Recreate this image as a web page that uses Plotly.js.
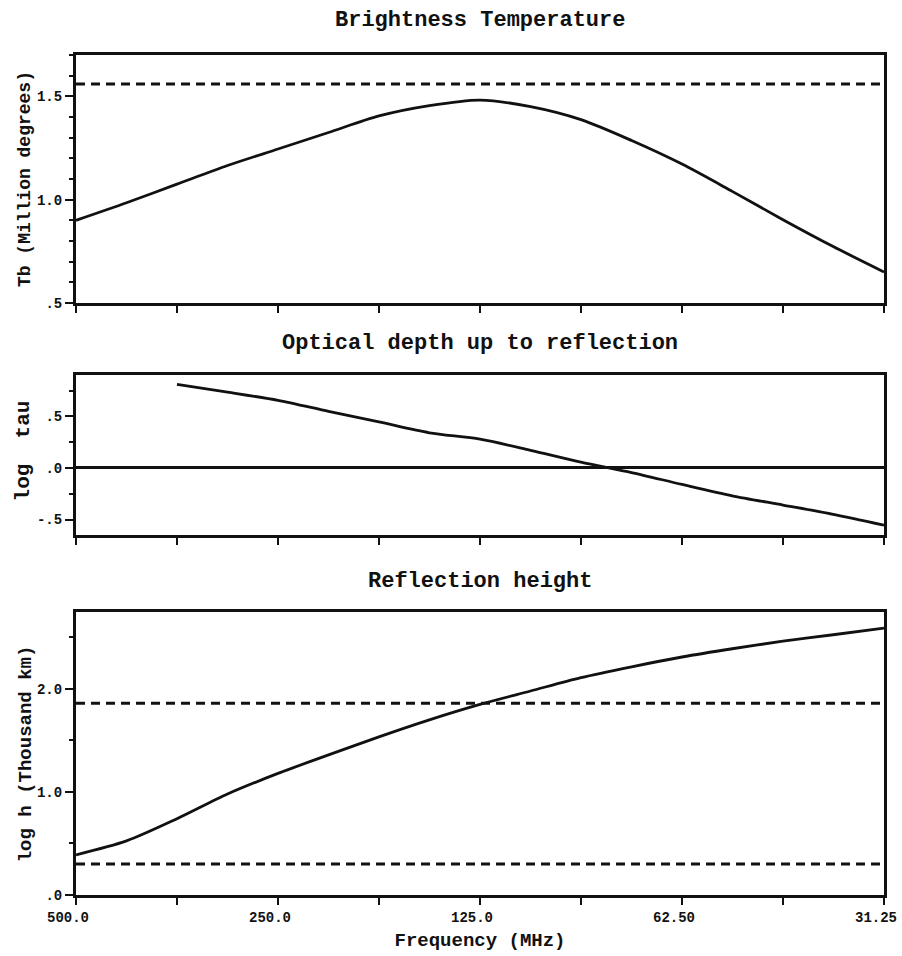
<!DOCTYPE html>
<html>
<head>
<meta charset="utf-8">
<script src="https://cdn.plot.ly/plotly-3.0.1.min.js"></script>
<style>html,body{margin:0;padding:0;background:#fff;}#chart{width:902px;height:956px;}</style>
</head>
<body>
<div id="chart"></div>
<script>
// Frequencies (MHz), quarter-octave steps from 500 down to 31.25
const freq = [500, 420.4, 353.6, 297.3, 250, 210.2, 176.8, 148.7, 125, 105.1, 88.4, 74.3, 62.5, 52.6, 44.2, 37.2, 31.25];
// Brightness temperature (million degrees)
const tb = [0.90, 0.985, 1.075, 1.165, 1.245, 1.325, 1.405, 1.455, 1.482, 1.45, 1.387, 1.286, 1.172, 1.04, 0.903, 0.773, 0.65];
const tbRef = [1.56, 1.56];
// Optical depth (log tau), starts at 353.6 MHz
const freqTau = [353.6, 297.3, 250, 210.2, 176.8, 148.7, 125, 105.1, 88.4, 74.3, 62.5, 52.6, 44.2, 37.2, 31.25];
const logTau = [0.81, 0.735, 0.655, 0.548, 0.445, 0.34, 0.278, 0.17, 0.055, -0.045, -0.16, -0.27, -0.36, -0.45, -0.555];
// Reflection height (log h, thousand km)
const logH = [0.39, 0.525, 0.74, 0.98, 1.18, 1.36, 1.535, 1.70, 1.85, 1.98, 2.11, 2.215, 2.31, 2.39, 2.463, 2.526, 2.59];
const hRefUpper = [1.86, 1.86];
const hRefLower = [0.30, 0.30];
const refFreq = [500, 31.25];
// Tick labels
const xTickVals = [500, 353.55, 250, 176.78, 125, 88.39, 62.5, 44.19, 31.25];
const xTickText = ['500.0', '', '250.0', '', '125.0', '', '62.50', '', '31.25'];
const y1TickVals = [0.5, 1.0, 1.5];
const y1TickText = ['.5', '1.0', '1.5'];
const y2TickVals = [-0.5, 0, 0.5];
const y2TickText = ['-.5', '.0', '.5'];
const y3TickVals = [0, 1, 2];
const y3TickText = ['.0', '1.0', '2.0'];

const FONT = 'Liberation Mono, DejaVu Sans Mono, monospace';
const solid = {color: '#111', width: 2.8, shape: 'spline', smoothing: 0.8};
const dashed = {color: '#111', width: 3, dash: '9px,6px'};

const traces = [
  {x: freq, y: tb, xaxis: 'x', yaxis: 'y', mode: 'lines', line: solid},
  {x: refFreq, y: tbRef, xaxis: 'x', yaxis: 'y', mode: 'lines', line: dashed},
  {x: freqTau, y: logTau, xaxis: 'x2', yaxis: 'y2', mode: 'lines', line: solid},
  {x: freq, y: logH, xaxis: 'x3', yaxis: 'y3', mode: 'lines', line: solid},
  {x: refFreq, y: hRefUpper, xaxis: 'x3', yaxis: 'y3', mode: 'lines', line: dashed},
  {x: refFreq, y: hRefLower, xaxis: 'x3', yaxis: 'y3', mode: 'lines', line: dashed}
];

const xRange = [Math.log10(500) + 1e-5, Math.log10(31.25) - 1e-5];
function xAxis(anchor, labels) {
  return {
    type: 'log', range: xRange, anchor: anchor,
    tickmode: 'array', tickvals: xTickVals, ticktext: labels ? xTickText : xTickVals.map(() => ''),
    showticklabels: labels, ticklabeloverflow: 'allow', ticklabelshift: 8,
    ticks: 'outside', ticklen: 7, tickwidth: 2, tickcolor: '#111',
    showline: true, linewidth: 3, linecolor: '#111', mirror: true,
    showgrid: false, zeroline: false,
    tickfont: {family: FONT, size: 14, color: '#111', weight: 'bold'}
  };
}
function yAxis(domain, range, vals, text, minorStep, zero) {
  return {
    domain: domain, range: range,
    tickmode: 'array', tickvals: vals, ticktext: text,
    ticks: 'outside', ticklen: 8, tickwidth: 2, tickcolor: '#111',
    minor: {tick0: 0, dtick: minorStep, ticks: 'outside', ticklen: 4, tickwidth: 2, tickcolor: '#111'},
    showline: true, linewidth: 3, linecolor: '#111', mirror: true,
    showgrid: false, zeroline: zero, zerolinecolor: '#111', zerolinewidth: 3,
    tickfont: {family: FONT, size: 14, color: '#111', weight: 'bold'}
  };
}

const layout = {
  width: 902, height: 956,
  margin: {l: 76, r: 18, t: 55, b: 61},
  paper_bgcolor: '#fff', plot_bgcolor: '#fff',
  showlegend: false,
  xaxis: xAxis('y', false),
  xaxis2: Object.assign(xAxis('y2', false), {matches: 'x'}),
  xaxis3: Object.assign(xAxis('y3', true), {
    matches: 'x',
    title: {text: 'Frequency (MHz)', standoff: 8, font: {family: FONT, size: 19, color: '#111', weight: 'bold'}}
  }),
  yaxis: Object.assign(yAxis([0.7048, 1.0], [0.5, 1.7], y1TickVals, y1TickText, 0.1, false), {anchor: 'x'}),
  yaxis2: Object.assign(yAxis([0.4286, 0.619], [-0.65, 0.9], y2TickVals, y2TickText, 0.25, true), {anchor: 'x2'}),
  yaxis3: Object.assign(yAxis([0, 0.3373], [0, 2.75], y3TickVals, y3TickText, 0.5, false), {anchor: 'x3'}),
  annotations: [
    {text: 'Brightness Temperature', x: 0.5, y: 1.0405, xref: 'paper', yref: 'paper', showarrow: false, yanchor: 'middle',
     font: {family: FONT, size: 22, color: '#111', weight: 'bold'}},
    {text: 'Optical depth up to reflection', x: 0.5, y: 0.656, xref: 'paper', yref: 'paper', showarrow: false, yanchor: 'middle',
     font: {family: FONT, size: 22, color: '#111', weight: 'bold'}},
    {text: 'Reflection height', x: 0.5, y: 0.3738, xref: 'paper', yref: 'paper', showarrow: false, yanchor: 'middle',
     font: {family: FONT, size: 22, color: '#111', weight: 'bold'}},
    {text: 'Tb (Million degrees)', x: -0.063, y: 0.8524, xref: 'paper', yref: 'paper', showarrow: false, textangle: -90,
     xanchor: 'center', yanchor: 'middle', font: {family: FONT, size: 18, color: '#111', weight: 'bold'}},
    {text: 'log\u00a0\u00a0tau', x: -0.065, y: 0.5286, xref: 'paper', yref: 'paper', showarrow: false, textangle: -90,
     xanchor: 'center', yanchor: 'middle', font: {family: FONT, size: 21, color: '#111', weight: 'bold'}},
    {text: 'log h (Thousand km)', x: -0.062, y: 0.1686, xref: 'paper', yref: 'paper', showarrow: false, textangle: -90,
     xanchor: 'center', yanchor: 'middle', font: {family: FONT, size: 19, color: '#111', weight: 'bold'}}
  ]
};

Plotly.newPlot('chart', traces, layout, {displayModeBar: false, staticPlot: true});
</script>
</body>
</html>
